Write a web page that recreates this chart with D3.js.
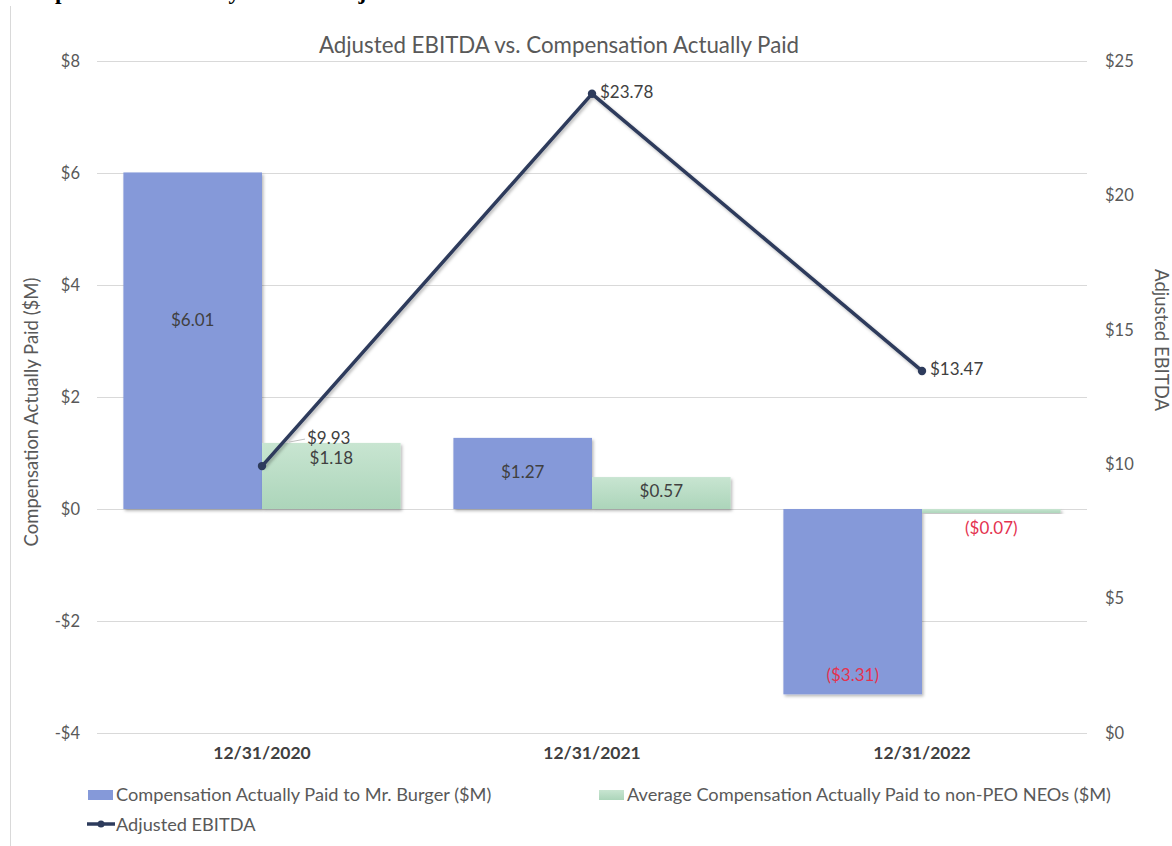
<!DOCTYPE html>
<html>
<head>
<meta charset="utf-8">
<script src="https://cdn.jsdelivr.net/npm/d3@7"></script>
<style>
  html, body { margin: 0; padding: 0; background: #ffffff; }
  svg { display: block; }
  text { font-family: Lato, "Open Sans", sans-serif; }
</style>
</head>
<body>
<svg id="chart" width="1172" height="846"></svg>
<script>
// ---- data ----
const categories = ["12/31/2020", "12/31/2021", "12/31/2022"];
const seriesNames = [
  "Compensation Actually Paid to Mr. Burger ($M)",
  "Average Compensation Actually Paid to non-PEO NEOs ($M)",
  "Adjusted EBITDA"
];
const capBurger = [6.01, 1.27, -3.31];
const capNeos = [1.18, 0.57, -0.07];
const adjEbitda = [9.93, 23.78, 13.47];
const leftTicks = [-4, -2, 0, 2, 4, 6, 8];
const rightTicks = [0, 5, 10, 15, 20, 25];
const chartTitle = "Adjusted EBITDA vs. Compensation Actually Paid";
const leftAxisTitle = "Compensation Actually Paid ($M)";
const rightAxisTitle = "Adjusted EBITDA";
const pageHeading = "Compensation Actually Paid vs. Adjusted EBITDA";

// ---- styling ----
const BLUE = "#8599d9";
const GREEN_TOP = "#c8e5d1";
const GREEN_BOT = "#acd5ba";
const NAVY = "#2d3b5c";
const AXIS_TXT = "#595959";
const NEG_RED = "#e4334f";
const GRID = "#d9d9d9";

const svg = d3.select("#chart");
const defs = svg.append("defs");
const sh = defs.append("filter").attr("id", "shadow")
  .attr("x", "-10%").attr("y", "-10%").attr("width", "130%").attr("height", "130%");
sh.append("feDropShadow").attr("dx", 1.5).attr("dy", 2).attr("stdDeviation", 1.5)
  .attr("flood-color", "#000").attr("flood-opacity", 0.28);
const gg = defs.append("linearGradient").attr("id", "greenGrad")
  .attr("x1", 0).attr("y1", 0).attr("x2", 0).attr("y2", 1);
gg.append("stop").attr("offset", "0%").attr("stop-color", GREEN_TOP);
gg.append("stop").attr("offset", "100%").attr("stop-color", GREEN_BOT);

// page heading (cropped at the top of the picture, as in the reference)
svg.append("text").attr("x", 7).attr("y", -1)
  .style("font-family", "'Liberation Serif', 'Times New Roman', serif")
  .style("font-weight", "bold").style("font-size", "23.4px").attr("fill", "#000")
  .text(pageHeading);

// left frame line
svg.append("line").attr("x1", 10.5).attr("x2", 10.5).attr("y1", 6).attr("y2", 846)
  .attr("stroke", "#d9d9d9").attr("stroke-width", 1);

// ---- scales ----
const plotLeft = 97, plotRight = 1087, plotTop = 61, plotBottom = 733;
const x = d3.scaleBand().domain(categories).range([plotLeft, plotRight])
  .paddingInner(0.16).paddingOuter(0.08);
const xs = d3.scaleBand().domain([0, 1]).range([0, x.bandwidth()]);
const yL = d3.scaleLinear().domain([-4, 8]).range([plotBottom, plotTop]);
const yR = d3.scaleLinear().domain([0, 25]).range([plotBottom, plotTop]);

const fmtTickL = v => (v < 0 ? "-$" + Math.abs(v) : "$" + v);
const fmtTickR = v => "$" + v;
const fmtVal = v => (v < 0 ? "($" + Math.abs(v).toFixed(2) + ")" : "$" + v.toFixed(2));

// gridlines
svg.append("g").selectAll("line").data(leftTicks).join("line")
  .attr("x1", plotLeft).attr("x2", plotRight)
  .attr("y1", d => Math.round(yL(d)) + 0.5).attr("y2", d => Math.round(yL(d)) + 0.5)
  .attr("stroke", GRID).attr("stroke-width", 1);

// left axis
const axL = d3.axisLeft(yL).tickValues(leftTicks).tickFormat(fmtTickL).tickSize(0).tickPadding(0);
const gL = svg.append("g").attr("transform", `translate(${80},0)`).call(axL);
gL.select(".domain").remove();
gL.selectAll("text").attr("fill", AXIS_TXT).style("font-size", "16.5px")
  .style("font-family", "Lato, sans-serif");

// right axis
const axR = d3.axisRight(yR).tickValues(rightTicks).tickFormat(fmtTickR).tickSize(0).tickPadding(0);
const gR = svg.append("g").attr("transform", `translate(${1105},0)`).call(axR);
gR.select(".domain").remove();
gR.selectAll("text").attr("fill", AXIS_TXT).style("font-size", "16.5px")
  .style("font-family", "Lato, sans-serif");

// bottom category axis
const axB = d3.axisBottom(x).tickSize(0).tickPadding(0);
const gB = svg.append("g").attr("transform", `translate(0,${747})`).call(axB);
gB.select(".domain").remove();
gB.selectAll("text").attr("fill", "#404040").style("font-size", "17.5px")
  .style("font-weight", "bold").style("font-family", "Lato, sans-serif");

// titles
svg.append("text").attr("x", 559).attr("y", 47).attr("text-anchor", "middle")
  .attr("dominant-baseline", "middle").attr("fill", AXIS_TXT)
  .style("font-size", "22.3px").text(chartTitle);
svg.append("text").attr("transform", `translate(33,${412}) rotate(-90)`)
  .attr("text-anchor", "middle").attr("dominant-baseline", "middle")
  .attr("fill", AXIS_TXT).style("font-size", "18.5px").text(leftAxisTitle);
svg.append("text").attr("transform", `translate(1160,${340}) rotate(90)`)
  .attr("text-anchor", "middle").attr("dominant-baseline", "middle")
  .attr("fill", AXIS_TXT).style("font-size", "18.5px").text(rightAxisTitle);

// ---- bars ----
const rows = categories.map((c, i) => ({ cat: c, vals: [capBurger[i], capNeos[i]] }));
const barG = svg.append("g");
rows.forEach((r, i) => {
  r.vals.forEach((v, s) => {
    const bx = x(r.cat) + xs(s);
    const y0 = yL(0), y1 = yL(v);
    barG.append("rect")
      .attr("x", bx).attr("width", xs.bandwidth())
      .attr("y", Math.min(y0, y1)).attr("height", Math.max(Math.abs(y1 - y0), 1.5))
      .attr("fill", s === 0 ? BLUE : "url(#greenGrad)")
      .attr("filter", "url(#shadow)");
  });
});

// bar labels
const labG = svg.append("g");
rows.forEach((r, i) => {
  r.vals.forEach((v, s) => {
    const cx = x(r.cat) + xs(s) + xs.bandwidth() / 2;
    let cy;
    if (v >= 0) {
      cy = (yL(0) + yL(v)) / 2;
      if (i === 0) cy -= (s === 0 ? 19 : 16); // manual nudges as in reference
    } else if (s === 0) {
      cy = yL(v) - 18; // inside end
    } else {
      cy = yL(v) + 17; // outside end
    }
    labG.append("text").attr("x", cx).attr("y", cy)
      .attr("text-anchor", "middle").attr("dominant-baseline", "middle")
      .attr("fill", v < 0 ? NEG_RED : "#404040").style("font-size", "17px")
      .text(fmtVal(v));
  });
});

// ---- EBITDA line ----
const linePts = categories.map((c, i) => [x(c) + x.bandwidth() / 2, yR(adjEbitda[i])]);
svg.append("path").datum(linePts)
  .attr("d", d3.line())
  .attr("fill", "none").attr("stroke", NAVY).attr("stroke-width", 3.5)
  .attr("stroke-linejoin", "round").attr("filter", "url(#shadow)");
svg.append("g").selectAll("circle").data(linePts).join("circle")
  .attr("cx", d => d[0]).attr("cy", d => d[1]).attr("r", 4.2).attr("fill", NAVY);
linePts.forEach((p, i) => {
  let lx = p[0] + 8, ly = p[1];
  if (i === 0) {
    lx = p[0] + 45; ly = p[1] - 26;
    svg.append("line").attr("x1", p[0] + 27).attr("y1", ly + 2).attr("x2", lx - 2).attr("y2", ly - 1)
      .attr("stroke", "#bfbfbf").attr("stroke-width", 1);
  }
  svg.append("text").attr("x", lx).attr("y", ly)
    .attr("dominant-baseline", "middle").attr("fill", "#404040")
    .style("font-size", "17px").text(fmtVal(adjEbitda[i]));
});

// ---- legend ----
const leg = svg.append("g");
leg.append("rect").attr("x", 88).attr("y", 790).attr("width", 25).attr("height", 10).attr("fill", BLUE);
leg.append("text").attr("x", 116).attr("y", 796).attr("dominant-baseline", "middle")
  .attr("fill", AXIS_TXT).style("font-size", "18.2px").text(seriesNames[0]);
leg.append("rect").attr("x", 599).attr("y", 790).attr("width", 25).attr("height", 10).attr("fill", "url(#greenGrad)");
leg.append("text").attr("x", 627).attr("y", 796).attr("dominant-baseline", "middle")
  .attr("fill", AXIS_TXT).style("font-size", "18.2px").text(seriesNames[1]);
leg.append("line").attr("x1", 87).attr("x2", 115).attr("y1", 824).attr("y2", 824)
  .attr("stroke", NAVY).attr("stroke-width", 3.5);
leg.append("circle").attr("cx", 101).attr("cy", 824).attr("r", 3.5).attr("fill", NAVY);
leg.append("text").attr("x", 116).attr("y", 826).attr("dominant-baseline", "middle")
  .attr("fill", AXIS_TXT).style("font-size", "18.2px").text(seriesNames[2]);
</script>
</body>
</html>
